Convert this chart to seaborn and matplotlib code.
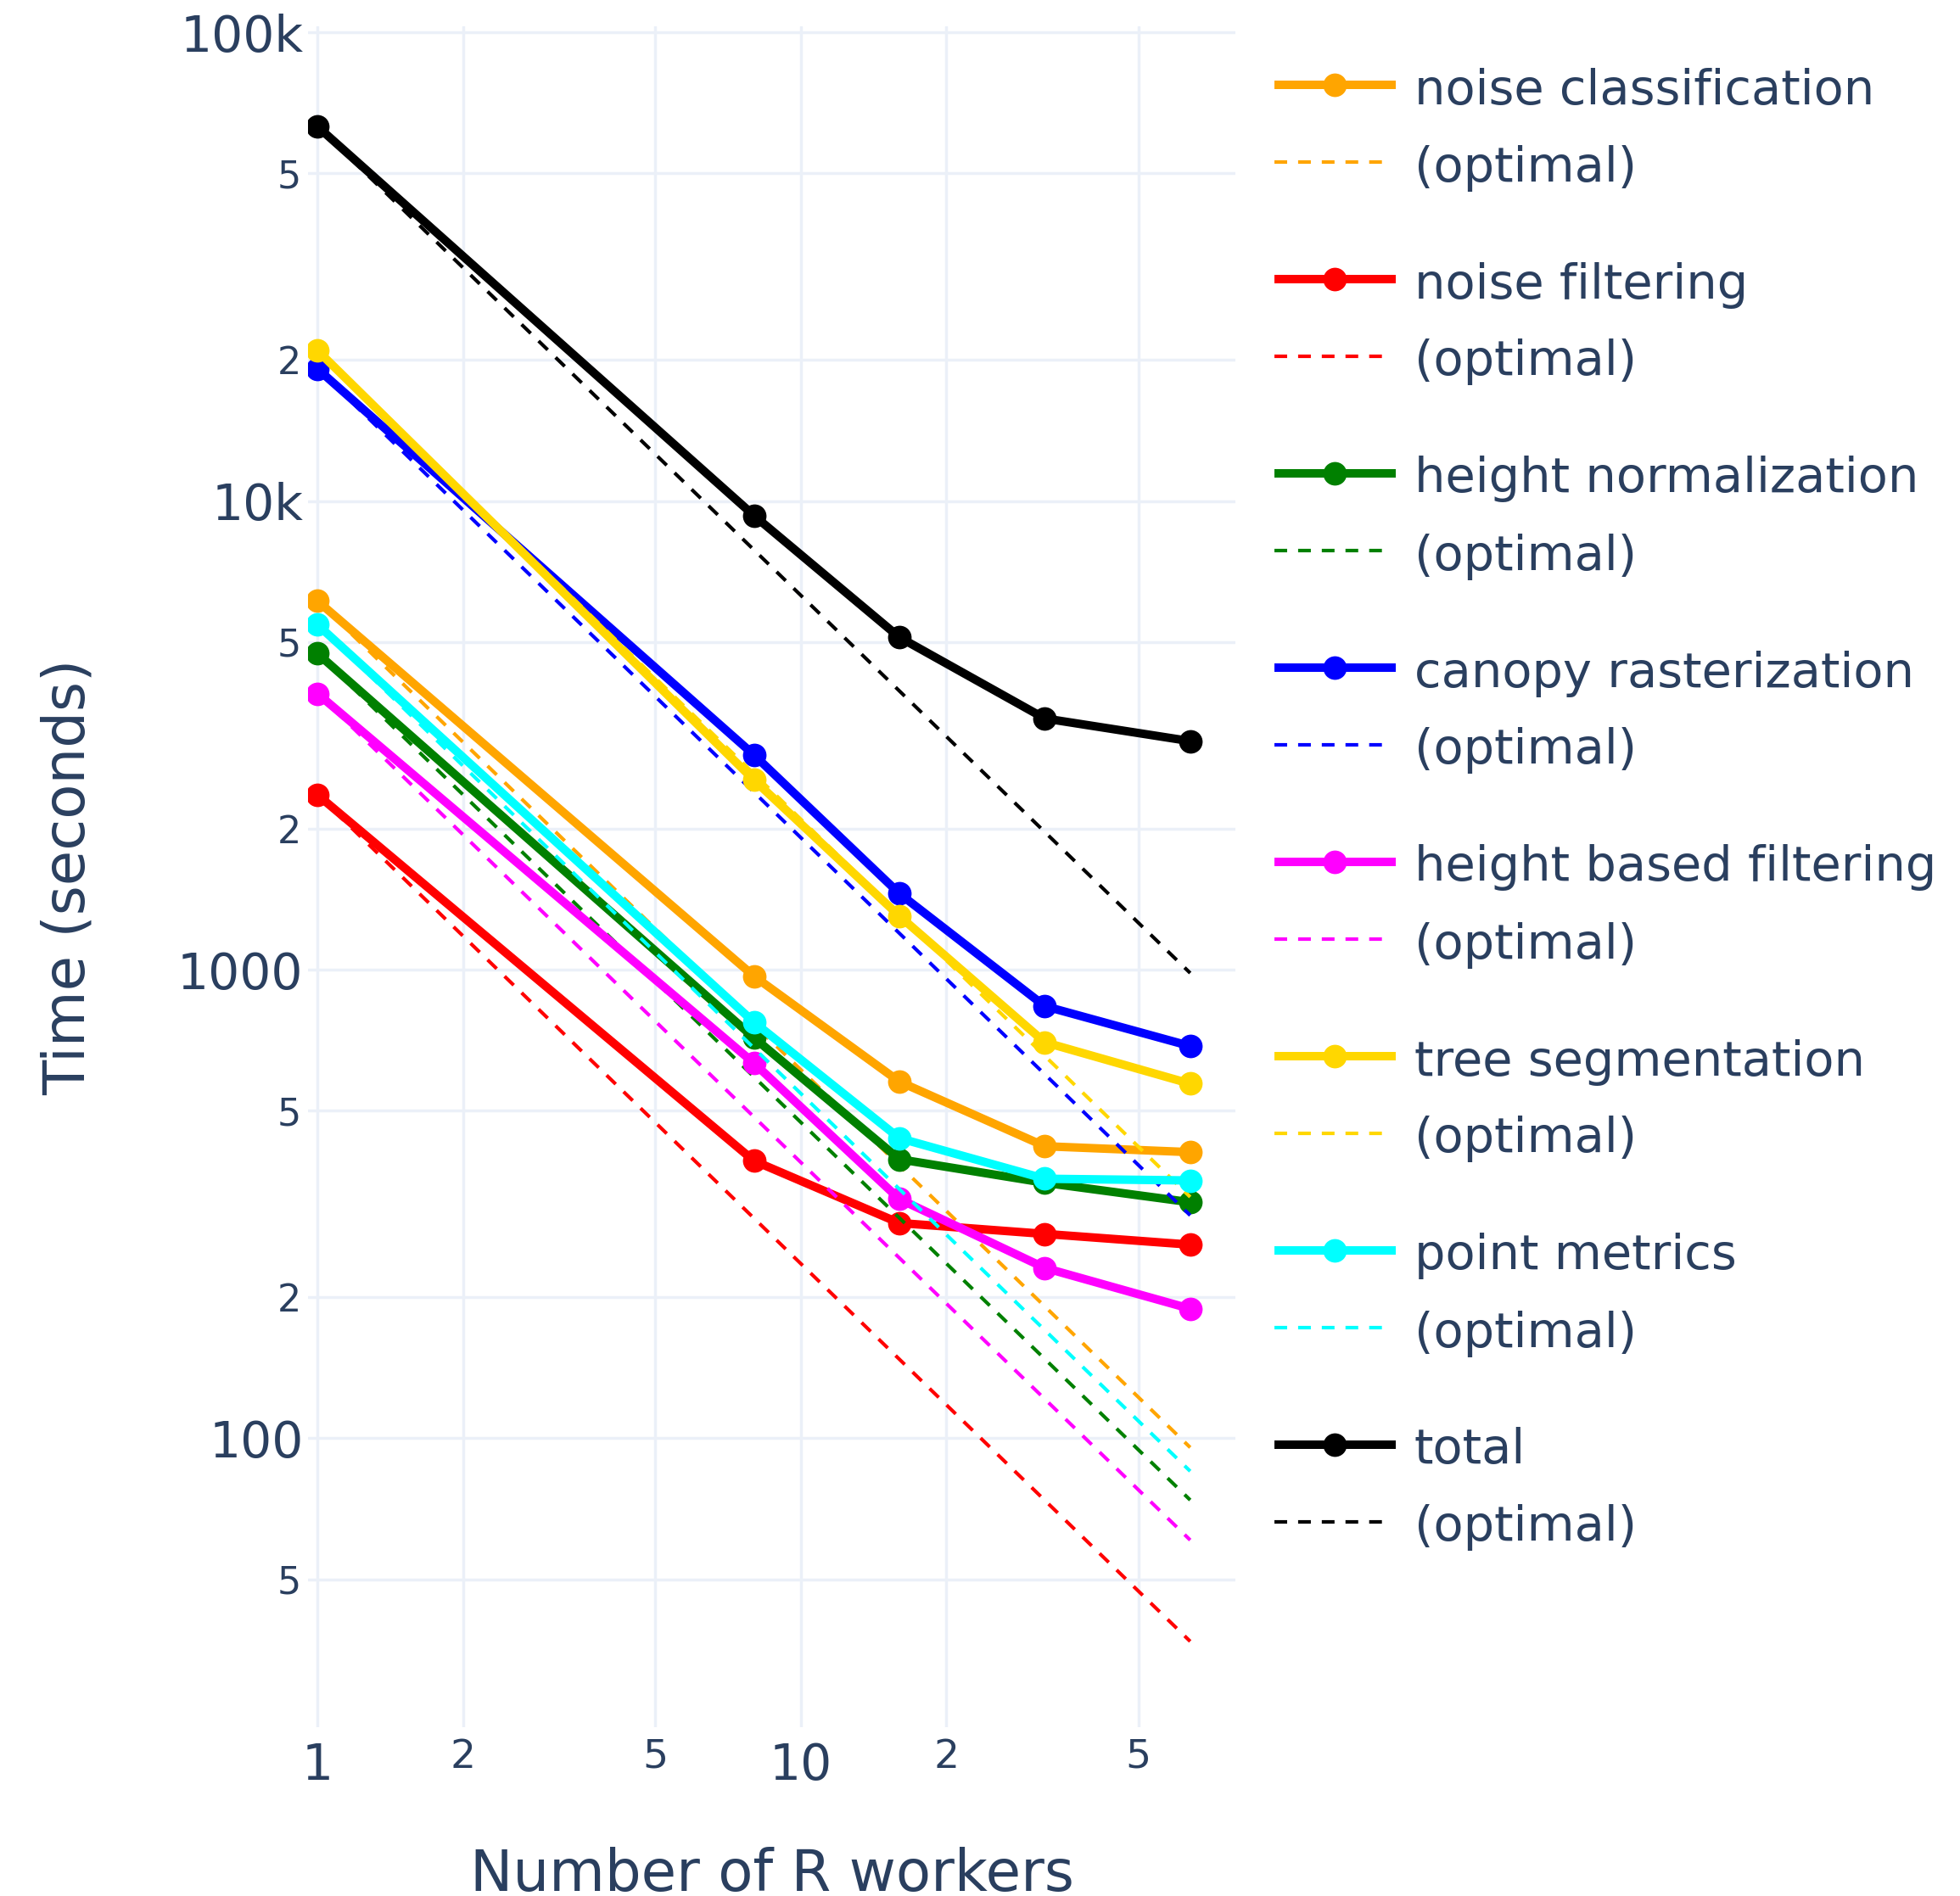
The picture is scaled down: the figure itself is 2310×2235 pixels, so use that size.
import numpy as np
import pandas as pd
import matplotlib
matplotlib.use("Agg")
import matplotlib.pyplot as plt
import seaborn as sns
from matplotlib.lines import Line2D
from matplotlib.ticker import FixedLocator, FixedFormatter

# ---------------- data ----------------
workers = [1, 8, 16, 32, 64]
stages = ["noise classification", "noise filtering", "height normalization",
          "canopy rasterization", "height based filtering", "tree segmentation",
          "point metrics", "total"]
colors = ["orange", "red", "green", "blue", "magenta", "gold", "cyan", "black"]

noise_classification = [6118, 969, 577, 420, 408]
noise_filtering = [2360, 391, 288, 273, 259]
height_normalization = [4726, 716, 394, 351, 319]
canopy_rasterization = [19140, 2874, 1454, 836, 687]
height_based_filtering = [3882, 632, 324, 231, 189]
tree_segmentation = [20950, 2541, 1302, 700, 571]
point_metrics = [5445, 773, 437, 358, 355]
total = [62950, 9315, 5121, 3436, 3074]

series = [noise_classification, noise_filtering, height_normalization,
          canopy_rasterization, height_based_filtering, tree_segmentation,
          point_metrics, total]

x_major = [1, 10]
x_major_labels = ["1", "10"]
x_minor = [2, 5, 20, 50]
x_minor_labels = ["2", "5", "2", "5"]
y_major = [100, 1000, 10000, 100000]
y_major_labels = ["100", "1000", "10k", "100k"]
y_minor = [50, 200, 500, 2000, 5000, 20000, 50000]
y_minor_labels = ["5", "2", "5", "2", "5", "2", "5"]

x_title = "Number of R workers"
y_title = "Time (seconds)"
opt_label = "(optimal)"

# ---------------- style ----------------
W, H = 2310, 2235
TC = "#2a3f5f"
GRID = "#EBF0F8"
sns.set_theme(style="white")
plt.rcParams["font.family"] = ["DejaVu Sans"]

fig = plt.figure(figsize=(W / 100, H / 100), dpi=100)
fig.patch.set_facecolor("white")
ax = fig.add_axes([363 / W, 1 - 2036 / H, (1456 - 363) / W, (2036 - 31) / H])
ax.set_facecolor("white")

LW = 7.2
MS = 20
OLW = 3.0
DASH = (0, (3.6, 3.1))

for name, vals, col in zip(stages, series, colors):
    df = pd.DataFrame({"workers": workers, "time": vals})
    sns.lineplot(data=df, x="workers", y="time", ax=ax, color=col, lw=LW,
                 marker="o", markersize=MS, markeredgewidth=0, legend=False)
    opt = pd.DataFrame({"workers": workers,
                        "time": [vals[0] / w for w in workers]})
    sns.lineplot(data=opt, x="workers", y="time", ax=ax, color=col, lw=OLW,
                 linestyle=DASH, legend=False)

ax.set_xscale("log")
ax.set_yscale("log")
ax.set_xlim(10 ** -0.0198, 10 ** 1.8997)
ax.set_ylim(10 ** 1.3836, 10 ** 5.013)

ax.xaxis.set_major_locator(FixedLocator(x_major))
ax.xaxis.set_major_formatter(FixedFormatter(x_major_labels))
ax.xaxis.set_minor_locator(FixedLocator(x_minor))
ax.xaxis.set_minor_formatter(FixedFormatter(x_minor_labels))
ax.yaxis.set_major_locator(FixedLocator(y_major))
ax.yaxis.set_major_formatter(FixedFormatter(y_major_labels))
ax.yaxis.set_minor_locator(FixedLocator(y_minor))
ax.yaxis.set_minor_formatter(FixedFormatter(y_minor_labels))

ax.tick_params(axis="x", which="major", length=0, pad=12.5, labelsize=42, labelcolor=TC)
ax.tick_params(axis="x", which="minor", length=0, pad=9, labelsize=34, labelcolor=TC)
ax.tick_params(axis="y", which="major", length=0, pad=4, labelsize=42, labelcolor=TC)
ax.tick_params(axis="y", which="minor", length=0, pad=6, labelsize=32, labelcolor=TC)

ax.grid(True, which="both", color=GRID, lw=2.5)
ax.set_axisbelow(True)
for s in ax.spines.values():
    s.set_visible(False)

ax.set_xlabel(x_title, fontsize=48.5, color=TC)
ax.set_ylabel(y_title, fontsize=48.5, color=TC)
ax.xaxis.label.set(va="center", ha="center")
ax.yaxis.label.set(va="center", ha="center")
ax.xaxis.set_label_coords(0.5, -0.0870)
ax.yaxis.set_label_coords(-0.258, 0.5)

# ---------------- legend (plotly-like) ----------------
def fx(px):
    return px / W

def fy(py):
    return 1 - py / H

row0 = 100.0
row_step = 229.0
opt_off = 91.0
LFS = 41.4
for i, (name, col) in enumerate(zip(stages, colors)):
    y = row0 + i * row_step
    yo = y + opt_off
    fig.add_artist(Line2D([fx(1502), fx(1645)], [fy(y), fy(y)], color=col, lw=LW,
                          solid_capstyle="butt", transform=fig.transFigure))
    fig.add_artist(Line2D([fx(1573)], [fy(y)], marker="o", ms=MS, mew=0, color=col,
                          transform=fig.transFigure))
    fig.add_artist(Line2D([fx(1502), fx(1630)], [fy(yo), fy(yo)], color=col, lw=OLW,
                          linestyle=DASH, dash_capstyle="butt",
                          transform=fig.transFigure))
    fig.text(fx(1667), fy(y + 22.5), name, fontsize=LFS, color=TC, va="baseline", ha="left")
    fig.text(fx(1667), fy(yo + 22.5), opt_label, fontsize=LFS, color=TC, va="baseline", ha="left")

fig.savefig("out.png", dpi=100, facecolor="white")
